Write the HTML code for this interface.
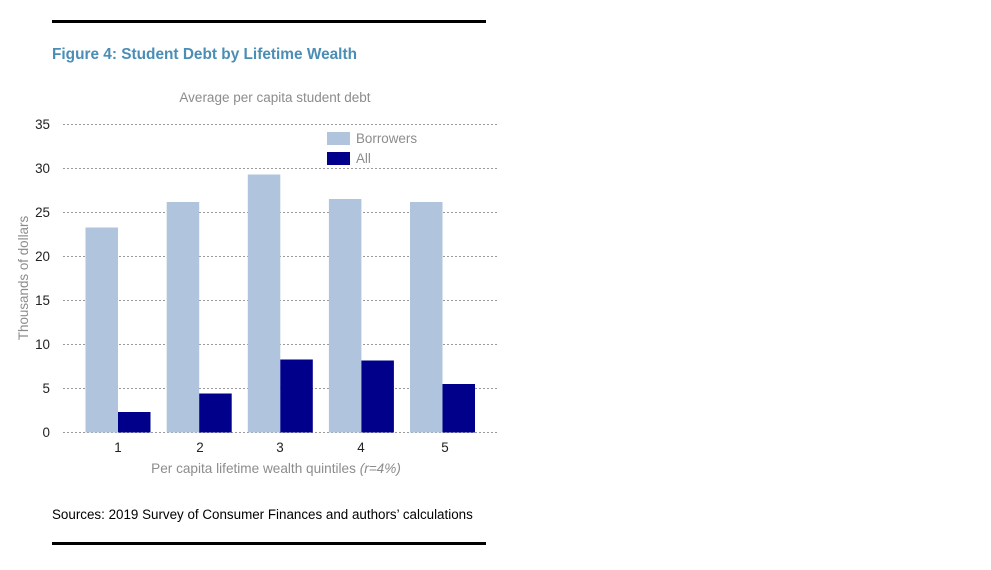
<!DOCTYPE html>
<html><head><style>
body{margin:0;background:#fff;width:991px;height:565px;overflow:hidden;font-family:"Liberation Sans",Arial,sans-serif;}
</style></head><body>
<svg width="991" height="565" xmlns="http://www.w3.org/2000/svg" font-family="Liberation Sans, Arial, sans-serif">
<rect x="52" y="20" width="434" height="3" fill="#000"/>
<rect x="52" y="542" width="434" height="3" fill="#000"/>
<text x="52" y="59" font-size="15.4" font-weight="bold" fill="#4a8db5">Figure 4: Student Debt by Lifetime Wealth</text>
<text x="275" y="102" font-size="13.5" fill="#8c8c8c" text-anchor="middle">Average per capita student debt</text>
<g stroke="#999" stroke-dasharray="2,2" stroke-width="1">
<line x1="63" x2="497" y1="124.5" y2="124.5"/>
<line x1="63" x2="497" y1="168.5" y2="168.5"/>
<line x1="63" x2="497" y1="212.5" y2="212.5"/>
<line x1="63" x2="497" y1="256.5" y2="256.5"/>
<line x1="63" x2="497" y1="300.5" y2="300.5"/>
<line x1="63" x2="497" y1="344.5" y2="344.5"/>
<line x1="63" x2="497" y1="388.5" y2="388.5"/>
<line x1="63" x2="497" y1="432.5" y2="432.5"/>
</g>
<g font-size="13.4" fill="#222" text-anchor="end">
<text x="50" y="129">35</text><text x="50" y="173">30</text><text x="50" y="217">25</text><text x="50" y="261">20</text><text x="50" y="305">15</text><text x="50" y="349">10</text><text x="50" y="393">5</text><text x="50" y="437">0</text>
</g>
<text transform="translate(28,278) rotate(-90)" font-size="13.4" fill="#8c8c8c" text-anchor="middle">Thousands of dollars</text>
<g fill="#b0c4de">
<rect x="85.5" y="227.5" width="32.5" height="205"/>
<rect x="166.7" y="202" width="32.5" height="230.5"/>
<rect x="247.8" y="174.5" width="32.5" height="258"/>
<rect x="328.9" y="199" width="32.5" height="233.5"/>
<rect x="410" y="202" width="32.5" height="230.5"/>
</g>
<g fill="#00008b">
<rect x="118" y="412" width="32.5" height="20.5"/>
<rect x="199.2" y="393.5" width="32.5" height="39"/>
<rect x="280.3" y="359.5" width="32.5" height="73"/>
<rect x="361.4" y="360.5" width="32.5" height="72"/>
<rect x="442.5" y="384" width="32.5" height="48.5"/>
</g>
<rect x="327" y="132" width="23" height="13" fill="#b0c4de"/>
<rect x="327" y="152" width="23" height="13" fill="#00008b"/>
<text x="356" y="143" font-size="13.4" fill="#8c8c8c">Borrowers</text>
<text x="356" y="163" font-size="13.4" fill="#8c8c8c">All</text>
<g font-size="13.4" fill="#222" text-anchor="middle">
<text x="118" y="452">1</text><text x="200" y="452">2</text><text x="280" y="452">3</text><text x="361" y="452">4</text><text x="445" y="452">5</text>
</g>
<text x="276" y="473" font-size="13.6" fill="#8c8c8c" text-anchor="middle">Per capita lifetime wealth quintiles <tspan font-style="italic">(r=4%)</tspan></text>
<text x="52" y="519" font-size="13.4" fill="#000">Sources: 2019 Survey of Consumer Finances and authors’ calculations</text>
</svg>
</body></html>
